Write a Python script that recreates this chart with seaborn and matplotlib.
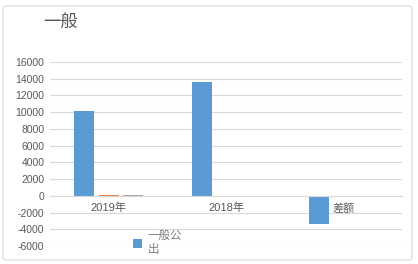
import matplotlib
matplotlib.use("Agg")
import matplotlib.pyplot as plt
import seaborn as sns
import pandas as pd
from matplotlib.patches import FancyBboxPatch, Patch

categories = ["2019年", "2018年", "差额"]
series_names = ["一般公\n出", "系列2", "系列3"]
series_a = [10150, 13550, -3380]
series_b = [110, 0, 0]
series_c = [110, 0, 0]
yticks = [-6000, -4000, -2000, 0, 2000, 4000, 6000, 8000, 10000, 12000, 14000, 16000]
title = "一般"

sns.set_theme(style="white")
plt.rcParams['font.family'] = ['Liberation Sans', 'Noto Sans CJK SC', 'DejaVu Sans']
plt.rcParams['axes.unicode_minus'] = False

rows = []
for name, vals in zip(series_names, [series_a, series_b, series_c]):
    for c, v in zip(categories, vals):
        rows.append({"cat": c, "series": name, "value": v})
df = pd.DataFrame(rows)

colors = ["#5B9BD5", "#ED7D31", "#A5A5A5"]
fig = plt.figure(figsize=(4.18, 2.64), dpi=100)
ax = fig.add_axes([50/418, 1-246/264, 352/418, (246-62)/264])

sns.barplot(data=df, x="cat", y="value", hue="series", order=categories,
            hue_order=series_names, palette=colors, width=0.62, gap=0.17,
            ax=ax, legend=False, errorbar=None, saturation=1, linewidth=0)

ax.set_ylim(-6000, 16000)
ax.set_yticks(yticks)
ax.set_yticklabels([str(t) for t in yticks], fontsize=7.5, color="#595959")
ax.set_xlim(-0.5, 2.5)
ax.set_xlabel("")
ax.set_ylabel("")
ax.grid(axis="y", color="#D9D9D9", linewidth=0.8)
ax.set_axisbelow(True)
for s in ["top", "right", "left"]:
    ax.spines[s].set_visible(False)
ax.spines["bottom"].set_position(("data", 0))
ax.spines["bottom"].set_color("#D9D9D9")
ax.spines["bottom"].set_linewidth(0.8)
ax.tick_params(axis="x", length=0, pad=5, labelsize=8, labelcolor="#595959")
ax.tick_params(axis="y", length=0, pad=4)

h = [Patch(facecolor=colors[0], edgecolor="none")]
leg = fig.legend(h, [series_names[0]], loc="upper left", bbox_to_anchor=(133/418, 1-230/264),
                 frameon=False, fontsize=8.3, handlelength=0.75, handleheight=0.75,
                 handletextpad=0.5, borderaxespad=0, borderpad=0)
for t in leg.get_texts():
    t.set_color("#7F7F7F")

fig.text(43/418, 1-23/264, title, fontsize=12.5, color="#595959", va="center", ha="left")

border = FancyBboxPatch((3/418, 4/264), 409/418, 254/264, boxstyle="round,pad=0,rounding_size=0.01",
                        transform=fig.transFigure, fill=False, edgecolor="#D9D9D9", linewidth=0.8)
fig.patches.append(border)

fig.savefig("out.png", dpi=100)
